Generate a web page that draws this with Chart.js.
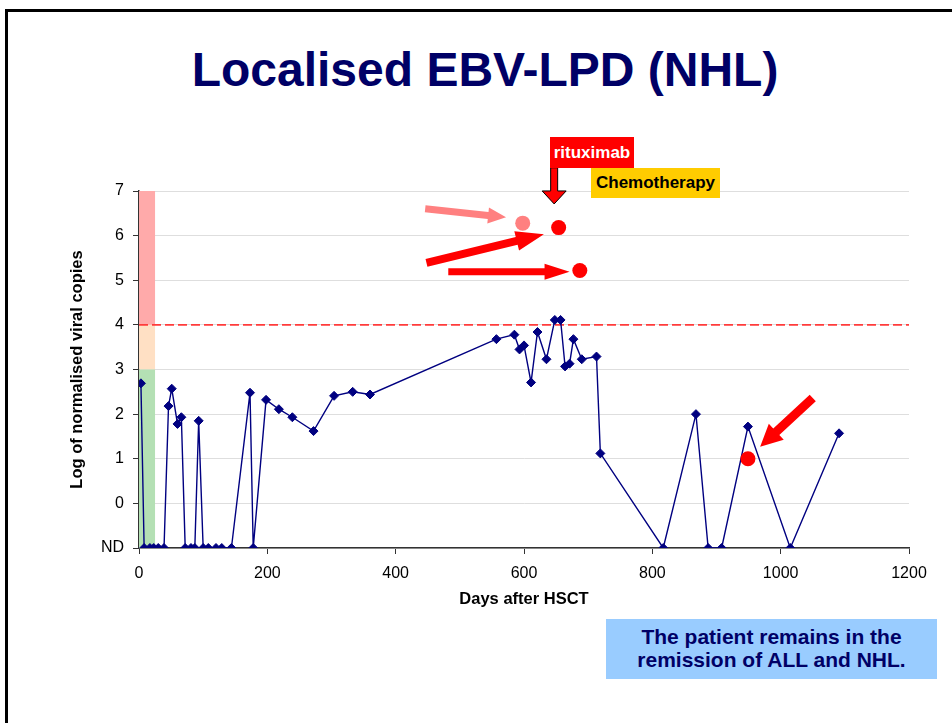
<!DOCTYPE html>
<html>
<head>
<meta charset="utf-8">
<script src="https://cdn.jsdelivr.net/npm/chart.js@4.4.1/dist/chart.umd.min.js"></script>
<style>
  html, body { margin: 0; padding: 0; background: #fff; overflow: hidden; }
  body { width: 952px; height: 723px; position: relative; font-family: "Liberation Sans", Arial, sans-serif; }
  #frame { position: absolute; left: 5px; top: 9px; width: 1000px; height: 800px; border-left: 3px solid #000; border-top: 3px solid #000; }
  #title { position: absolute; left: 0; top: 42px; width: 970px; text-align: center; font-weight: bold; font-size: 48px; color: #000066; white-space: nowrap; }
  #chart { position: absolute; left: 0; top: 0; }
  .box { position: absolute; font-weight: bold; font-size: 17px; text-align: center; white-space: nowrap; }
  #ritux { left: 550px; top: 137px; width: 84px; height: 31px; line-height: 31px; background: #ff0000; color: #fff; }
  #chemo { left: 591px; top: 168px; width: 129px; height: 30px; line-height: 30px; background: #ffcc00; color: #000; }
  #note { left: 606px; top: 619px; width: 331px; height: 60px; background: #99ccff; color: #000066; font-size: 21px; line-height: 23px; padding-top: 6px; box-sizing: border-box; }
</style>
</head>
<body>
<div id="frame"></div>
<div id="title">Localised EBV-LPD (NHL)</div>
<canvas id="chart" width="952" height="723"></canvas>
<div class="box" id="ritux">rituximab</div>
<div class="box" id="chemo">Chemotherapy</div>
<div class="box" id="note">The patient remains in the<br>remission of ALL and NHL.</div>
<script>
// EBV load, days after HSCT; ND (not detected) is plotted at -1
const days = [3, 8, 17, 23, 30, 39, 46, 51, 60, 66, 72, 81, 87, 93, 100, 108, 120, 129, 144,
  173, 178, 198, 218, 239, 272, 304, 333, 360, 557, 585, 593, 600, 611, 621, 635, 648, 657,
  664, 671, 677, 690, 713, 719, 817, 868, 887, 908, 949, 1015, 1091];
const logCopies = [2.69, -1, -1, -1, -1, -1, 2.18, 2.57, 1.78, 1.93, -1, -1, -1, 1.85, -1, -1, -1, -1, -1,
  2.48, -1, 2.32, 2.11, 1.93, 1.62, 2.41, 2.5, 2.44, 3.68, 3.78, 3.45, 3.54, 2.71, 3.84, 3.23, 4.11, 4.11,
  3.07, 3.13, 3.68, 3.23, 3.29, 1.12, -1, 2.0, -1, -1, 1.72, -1, 1.57];

const yTickValues = [-1, 0, 1, 2, 3, 4, 5, 6, 7];
const yTickLabels = ['ND', '0', '1', '2', '3', '4', '5', '6', '7'];

const thresholdLog = 4;

// marked events (red dots)
const eventDays = [598, 654, 687, 949];
const eventLogs = [6.28, 6.18, 5.22, 1.0];
const eventColors = ['#ff8080', '#ff0000', '#ff0000', '#ff0000'];

// risk bands near day 0
const bandDays = [0, 25];
const bandRanges = [[4, 7], [3, 4], [-1, 3]];
const bandColors = ['#ffaaaa', '#ffe0c4', '#b4e0b4'];

// arrows, in data units [day, log]
const arrowFrom = [[446, 6.6], [448, 5.39], [482, 5.19], [1050, 2.36], [647, 7.52]];
const arrowTo = [[572, 6.41], [631, 6.03], [671, 5.19], [968, 1.27], [647, 6.71]];
const arrowStyles = [
  { fill: '#ff8080', shaft: 7, head: 18, hw: 16 },
  { fill: '#ff0000', shaft: 8, head: 28, hw: 20 },
  { fill: '#ff0000', shaft: 7, head: 25, hw: 16 },
  { fill: '#ff0000', shaft: 9, head: 22, hw: 22 },
  { fill: '#ff0000', shaft: 7, head: 13, hw: 24, stroke: '#000' },
];

function drawArrow(ctx, x1, y1, x2, y2, s) {
  const dx = x2 - x1, dy = y2 - y1;
  const len = Math.hypot(dx, dy);
  const ux = dx / len, uy = dy / len;
  const nx = -uy, ny = ux;
  const bx = x2 - ux * s.head, by = y2 - uy * s.head;
  const sw = s.shaft / 2, hw = s.hw / 2;
  ctx.beginPath();
  ctx.moveTo(x1 + nx * sw, y1 + ny * sw);
  ctx.lineTo(bx + nx * sw, by + ny * sw);
  ctx.lineTo(bx + nx * hw, by + ny * hw);
  ctx.lineTo(x2, y2);
  ctx.lineTo(bx - nx * hw, by - ny * hw);
  ctx.lineTo(bx - nx * sw, by - ny * sw);
  ctx.lineTo(x1 - nx * sw, y1 - ny * sw);
  ctx.closePath();
  ctx.fillStyle = s.fill;
  ctx.fill();
  if (s.stroke) {
    ctx.strokeStyle = s.stroke;
    ctx.lineWidth = 1;
    ctx.stroke();
  }
}

const bandsPlugin = {
  id: 'bands',
  beforeDatasetsDraw(chart) {
    const { ctx, scales: { x, y } } = chart;
    const left = x.getPixelForValue(bandDays[0]);
    const right = x.getPixelForValue(bandDays[1]);
    ctx.save();
    bandRanges.forEach((r, i) => {
      const top = y.getPixelForValue(r[1]);
      const bottom = y.getPixelForValue(r[0]);
      ctx.fillStyle = bandColors[i];
      ctx.fillRect(left, top, right - left, bottom - top);
    });
    ctx.restore();
  },
};

const arrowsPlugin = {
  id: 'arrows',
  afterDraw(chart) {
    const { ctx, scales: { x, y } } = chart;
    ctx.save();
    arrowFrom.forEach((from, i) => {
      const to = arrowTo[i];
      drawArrow(ctx,
        x.getPixelForValue(from[0]), y.getPixelForValue(from[1]),
        x.getPixelForValue(to[0]), y.getPixelForValue(to[1]),
        arrowStyles[i]);
    });
    ctx.restore();
  },
};

Chart.defaults.font.family = '"Liberation Sans", Arial, sans-serif';
Chart.defaults.color = '#000';

new Chart(document.getElementById('chart'), {
  type: 'scatter',
  data: {
    datasets: [
      {
        label: 'Events',
        data: eventDays.map((d, i) => ({ x: d, y: eventLogs[i] })),
        pointRadius: 7.5,
        pointBackgroundColor: eventColors,
        pointBorderWidth: 0,
        showLine: false,
        order: 0,
      },
      {
        label: 'EBV load',
        data: days.map((d, i) => ({ x: d, y: logCopies[i] })),
        showLine: true,
        borderColor: '#000080',
        borderWidth: 1.4,
        pointStyle: 'rectRot',
        pointRadius: 4.5,
        pointBackgroundColor: '#000080',
        pointBorderColor: '#000080',
        pointBorderWidth: 1,
        order: 1,
      },
      {
        label: 'Threshold',
        data: [{ x: 0, y: thresholdLog }, { x: 1200, y: thresholdLog }],
        showLine: true,
        borderColor: '#ff3b3b',
        borderWidth: 1.6,
        borderDash: [9, 4],
        pointRadius: 0,
        order: 2,
      },
    ],
  },
  options: {
    responsive: false,
    animation: false,
    devicePixelRatio: 1,
    layout: { padding: { left: 0, top: 191, right: 43, bottom: 0 } },
    plugins: { legend: { display: false }, tooltip: { enabled: false } },
    scales: {
      x: {
        type: 'linear',
        min: 0,
        max: 1200,
        afterFit: (scale) => { scale.height = 175; },
        ticks: { stepSize: 200, font: { size: 16 }, padding: 10, maxRotation: 0, callback: (v) => String(v) },
        grid: { drawOnChartArea: false, tickLength: 6, tickColor: '#333' },
        border: { color: '#333', width: 1.5 },
        title: { display: true, text: 'Days after HSCT', font: { size: 16.5, weight: 'bold' }, padding: { top: 0, bottom: 114 } },
      },
      y: {
        min: -1,
        max: 7,
        afterFit: (scale) => { scale.width = 139; },
        afterBuildTicks: (scale) => { scale.ticks = yTickValues.map((v) => ({ value: v })); },
        ticks: {
          font: { size: 16 },
          padding: 9,
          callback: (v) => yTickLabels[yTickValues.indexOf(v)],
        },
        grid: { color: '#dedede', lineWidth: 1, tickLength: 6, tickColor: '#333' },
        border: { color: '#333', width: 1.5 },
        title: { display: true, text: 'Log of normalised viral copies', font: { size: 16.5, weight: 'bold' }, padding: { top: 68, bottom: 0 } },
      },
    },
  },
  plugins: [bandsPlugin, arrowsPlugin],
});
</script>
</body>
</html>
